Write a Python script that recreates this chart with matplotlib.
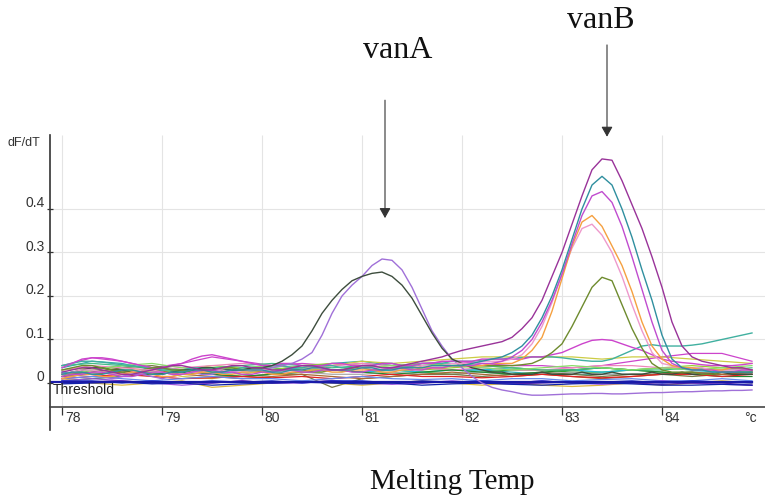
import numpy as np
import matplotlib
matplotlib.use("Agg")
import matplotlib.pyplot as plt

# temperature grids (degC)
temp_fine = np.round(np.arange(78.0, 84.95, 0.1), 1)     # 70 points
temp_coarse = np.round(np.arange(78.0, 84.95, 0.3), 1)   # 24 points

# --- peak curves (fine grid, dF/dT) ---
vanA_dark = [0.02, 0.025, 0.03, 0.035, 0.035, 0.03, 0.03, 0.025, 0.025, 0.02,
             0.02, 0.025, 0.03, 0.03, 0.035, 0.035, 0.03, 0.03, 0.03, 0.035,
             0.035, 0.04, 0.05, 0.065, 0.085, 0.12, 0.16, 0.19, 0.215, 0.235,
             0.245, 0.252, 0.255, 0.245, 0.225, 0.195, 0.155, 0.115, 0.08, 0.055,
             0.045, 0.035, 0.03, 0.025, 0.025, 0.02, 0.02, 0.02, 0.025, 0.02,
             0.02, 0.02, 0.025, 0.02, 0.02, 0.025, 0.02, 0.02, 0.02, 0.025,
             0.02, 0.02, 0.025, 0.02, 0.02, 0.02, 0.025, 0.02, 0.02, 0.02]
vanA_lavender = [0.01, 0.015, 0.02, 0.02, 0.015, 0.01, 0.015, 0.02, 0.02, 0.015,
                 0.01, 0.015, 0.02, 0.025, 0.02, 0.02, 0.025, 0.025, 0.03, 0.03,
                 0.03, 0.035, 0.04, 0.045, 0.055, 0.07, 0.11, 0.16, 0.2, 0.225,
                 0.245, 0.27, 0.285, 0.282, 0.26, 0.22, 0.17, 0.12, 0.085, 0.055,
                 0.035, 0.015, 0.0, -0.01, -0.016, -0.02, -0.025, -0.028, -0.028, -0.027,
                 -0.026, -0.025, -0.025, -0.024, -0.024, -0.025, -0.025, -0.024, -0.023, -0.022,
                 -0.022, -0.021, -0.02, -0.02, -0.019, -0.018, -0.018, -0.017, -0.017, -0.016]
vanB_purple = [0.025, 0.03, 0.035, 0.035, 0.03, 0.025, 0.02, 0.02, 0.025, 0.03,
               0.035, 0.04, 0.04, 0.035, 0.03, 0.03, 0.035, 0.04, 0.04, 0.035,
               0.035, 0.03, 0.03, 0.035, 0.04, 0.04, 0.035, 0.03, 0.03, 0.035,
               0.04, 0.04, 0.035, 0.035, 0.04, 0.045, 0.05, 0.055, 0.06, 0.068,
               0.075, 0.08, 0.085, 0.09, 0.095, 0.105, 0.125, 0.15, 0.19, 0.245,
               0.3, 0.365, 0.43, 0.49, 0.515, 0.512, 0.465, 0.41, 0.355, 0.29,
               0.22, 0.14, 0.085, 0.06, 0.05, 0.045, 0.04, 0.035, 0.035, 0.03]
vanB_teal = [0.02, 0.025, 0.025, 0.02, 0.02, 0.025, 0.03, 0.03, 0.025, 0.02,
             0.02, 0.025, 0.025, 0.03, 0.03, 0.025, 0.025, 0.03, 0.03, 0.03,
             0.03, 0.025, 0.025, 0.03, 0.03, 0.035, 0.035, 0.03, 0.03, 0.03,
             0.035, 0.035, 0.03, 0.03, 0.035, 0.035, 0.035, 0.04, 0.04, 0.04,
             0.04, 0.045, 0.05, 0.055, 0.06, 0.07, 0.085, 0.11, 0.15, 0.2,
             0.26, 0.33, 0.4, 0.455, 0.475, 0.455, 0.4, 0.335, 0.26, 0.19,
             0.11, 0.055, 0.035, 0.03, 0.03, 0.025, 0.025, 0.025, 0.025, 0.025]
vanB_violet = [0.015, 0.02, 0.02, 0.025, 0.025, 0.02, 0.015, 0.015, 0.02, 0.025,
               0.025, 0.02, 0.02, 0.025, 0.03, 0.03, 0.025, 0.025, 0.02, 0.02,
               0.025, 0.025, 0.03, 0.03, 0.025, 0.025, 0.03, 0.03, 0.03, 0.025,
               0.025, 0.03, 0.03, 0.035, 0.035, 0.03, 0.03, 0.035, 0.035, 0.04,
               0.04, 0.04, 0.045, 0.045, 0.05, 0.06, 0.075, 0.1, 0.14, 0.19,
               0.25, 0.32, 0.385, 0.43, 0.44, 0.415, 0.36, 0.29, 0.215, 0.14,
               0.075, 0.045, 0.035, 0.03, 0.03, 0.03, 0.025, 0.025, 0.03, 0.03]
vanB_orange = [0.01, 0.015, 0.02, 0.02, 0.015, 0.015, 0.02, 0.025, 0.025, 0.02,
               0.015, 0.015, 0.02, 0.02, 0.025, 0.025, 0.02, 0.02, 0.025, 0.025,
               0.025, 0.02, 0.02, 0.025, 0.025, 0.03, 0.03, 0.025, 0.025, 0.03,
               0.03, 0.03, 0.025, 0.025, 0.03, 0.03, 0.035, 0.035, 0.035, 0.04,
               0.04, 0.04, 0.04, 0.045, 0.045, 0.045, 0.055, 0.075, 0.105, 0.165,
               0.24, 0.315, 0.37, 0.385, 0.36, 0.315, 0.27, 0.21, 0.14, 0.085,
               0.055, 0.04, 0.035, 0.035, 0.03, 0.03, 0.03, 0.035, 0.035, 0.03]
vanB_pink = [0.02, 0.025, 0.03, 0.03, 0.025, 0.02, 0.02, 0.025, 0.03, 0.03,
             0.025, 0.02, 0.02, 0.025, 0.025, 0.03, 0.03, 0.025, 0.025, 0.03,
             0.03, 0.03, 0.025, 0.025, 0.03, 0.035, 0.035, 0.03, 0.03, 0.03,
             0.035, 0.035, 0.035, 0.03, 0.03, 0.035, 0.04, 0.04, 0.04, 0.045,
             0.045, 0.045, 0.05, 0.05, 0.05, 0.055, 0.065, 0.09, 0.13, 0.185,
             0.25, 0.31, 0.355, 0.365, 0.34, 0.3, 0.245, 0.18, 0.12, 0.07,
             0.045, 0.04, 0.035, 0.035, 0.035, 0.03, 0.03, 0.03, 0.03, 0.03]
vanB_olive = [0.03, 0.035, 0.04, 0.04, 0.035, 0.03, 0.025, 0.025, 0.03, 0.035,
              0.035, 0.03, 0.03, 0.025, 0.025, 0.03, 0.035, 0.035, 0.03, 0.03,
              0.025, 0.025, 0.03, 0.03, 0.03, 0.025, 0.025, 0.03, 0.03, 0.035,
              0.035, 0.03, 0.03, 0.035, 0.035, 0.035, 0.04, 0.04, 0.04, 0.04,
              0.04, 0.04, 0.04, 0.04, 0.04, 0.04, 0.042, 0.045, 0.055, 0.07,
              0.09, 0.13, 0.175, 0.22, 0.243, 0.235, 0.18, 0.125, 0.08, 0.045,
              0.03, 0.025, 0.025, 0.025, 0.02, 0.02, 0.025, 0.025, 0.025, 0.025]
vanB_small = [0.035, 0.045, 0.055, 0.058, 0.058, 0.055, 0.05, 0.045, 0.04, 0.035,
              0.035, 0.04, 0.045, 0.055, 0.062, 0.065, 0.06, 0.055, 0.05, 0.045,
              0.04, 0.04, 0.045, 0.045, 0.04, 0.04, 0.04, 0.045, 0.045, 0.04,
              0.04, 0.04, 0.045, 0.045, 0.04, 0.04, 0.045, 0.045, 0.05, 0.05,
              0.05, 0.05, 0.055, 0.055, 0.055, 0.055, 0.055, 0.06, 0.06, 0.065,
              0.07, 0.08, 0.09, 0.098, 0.1, 0.098, 0.09, 0.082, 0.075, 0.065,
              0.055, 0.05, 0.047, 0.045, 0.042, 0.04, 0.04, 0.04, 0.042, 0.045]
teal_riser = [0.04, 0.045, 0.05, 0.05, 0.048, 0.045, 0.042, 0.04, 0.038, 0.035,
              0.03, 0.03, 0.03, 0.035, 0.035, 0.035, 0.03, 0.03, 0.035, 0.035,
              0.035, 0.04, 0.04, 0.035, 0.035, 0.04, 0.04, 0.04, 0.035, 0.035,
              0.04, 0.04, 0.045, 0.045, 0.04, 0.04, 0.045, 0.045, 0.045, 0.05,
              0.05, 0.05, 0.052, 0.055, 0.055, 0.058, 0.058, 0.06, 0.06, 0.06,
              0.058, 0.055, 0.052, 0.05, 0.05, 0.055, 0.065, 0.075, 0.085, 0.088,
              0.085, 0.085, 0.085, 0.087, 0.09, 0.095, 0.1, 0.105, 0.11, 0.115]

# --- background (negative) samples, coarse grid ---
bg_magenta = [0.04, 0.058, 0.05, 0.035, 0.045, 0.06, 0.05, 0.04, 0.045, 0.04, 0.045, 0.04,
              0.045, 0.05, 0.045, 0.04, 0.04, 0.035, 0.04, 0.05, 0.06, 0.068, 0.068, 0.05]
bg_teal = [0.035, 0.05, 0.045, 0.03, 0.025, 0.03, 0.035, 0.04, 0.035, 0.045, 0.05, 0.04,
           0.035, 0.03, 0.03, 0.025, 0.02, 0.02, 0.02, 0.02, 0.02, 0.025, 0.025, 0.02]
bg_yellow = [0.02, 0.025, 0.03, 0.03, 0.015, 0.01, 0.02, 0.03, 0.035, 0.04, 0.05, 0.045,
             0.05, 0.055, 0.06, 0.06, 0.06, 0.06, 0.055, 0.06, 0.06, 0.055, 0.05, 0.045]
bg_green = [0.015, 0.03, 0.04, 0.035, 0.03, 0.025, 0.03, 0.035, 0.03, 0.03, 0.025, 0.03,
            0.025, 0.02, 0.025, 0.03, 0.03, 0.025, 0.025, 0.03, 0.025, 0.02, 0.025, 0.03]
bg_red = [0.01, 0.015, 0.02, 0.015, 0.01, 0.012, 0.015, 0.012, 0.015, 0.01, 0.015, 0.02,
          0.015, 0.015, 0.012, 0.015, 0.02, 0.015, 0.012, 0.015, 0.02, 0.02, 0.015, 0.02]
bg_blue = [0.005, 0.005, 0.0, 0.005, 0.0, 0.005, 0.002, 0.005, 0.0, 0.005, 0.005, 0.0,
           0.005, 0.002, 0.005, 0.0, 0.005, 0.0, 0.002, 0.005, 0.0, 0.005, 0.002, 0.0]
bg_indigo = [0.0, 0.003, 0.005, 0.0, 0.002, 0.0, 0.005, 0.0, 0.002, 0.005, 0.0, 0.002,
             0.0, 0.003, 0.0, -0.002, 0.0, 0.002, 0.0, 0.0, -0.003, 0.0, 0.0, -0.005]
bg_cyan = [0.025, 0.02, 0.025, 0.03, 0.025, 0.02, 0.025, 0.03, 0.035, 0.03, 0.025, 0.03,
           0.025, 0.03, 0.03, 0.035, 0.03, 0.03, 0.025, 0.03, 0.035, 0.03, 0.025, 0.025]
bg_gray = [0.02, 0.03, 0.025, 0.02, 0.025, 0.02, 0.015, 0.02, 0.025, 0.02, 0.02, 0.025,
           0.02, 0.02, 0.025, 0.02, 0.02, 0.025, 0.02, 0.02, 0.02, 0.02, 0.025, 0.02]
bg_lime = [0.03, 0.035, 0.03, 0.025, 0.03, 0.04, 0.035, 0.03, 0.04, 0.045, 0.04, 0.035,
           0.03, 0.035, 0.04, 0.035, 0.03, 0.03, 0.035, 0.03, 0.035, 0.04, 0.035, 0.03]
bg_gold = [0.01, 0.0, -0.005, 0.0, 0.005, -0.01, -0.005, 0.0, 0.005, 0.0, -0.005, 0.0,
           0.005, 0.0, -0.005, 0.0, -0.005, -0.008, -0.005, 0.0, -0.005, 0.0, 0.005, 0.0]
bg_olive = [0.02, 0.025, 0.035, 0.04, 0.03, 0.02, 0.015, 0.02, 0.02, -0.01, 0.01, 0.015,
            0.02, 0.02, 0.015, 0.02, 0.025, 0.02, 0.015, 0.02, 0.02, 0.015, 0.02, 0.02]
bg_pink = [0.03, 0.04, 0.035, 0.03, 0.035, 0.04, 0.045, 0.04, 0.035, 0.04, 0.045, 0.04,
           0.035, 0.03, 0.035, 0.03, 0.03, 0.035, 0.04, 0.04, 0.035, 0.035, 0.03, 0.03]
bg_darkgreen = [0.005, 0.01, 0.015, 0.02, 0.025, 0.02, 0.015, 0.02, 0.025, 0.03, 0.025, 0.02,
                0.025, 0.03, 0.025, 0.02, 0.025, 0.03, 0.035, 0.03, 0.025, 0.02, 0.015, 0.015]
bg_lightblue = [0.01, 0.015, 0.01, 0.005, 0.01, 0.015, 0.01, 0.01, 0.005, 0.01, 0.015, 0.01,
                0.008, 0.01, 0.005, 0.01, 0.01, 0.005, 0.008, 0.01, 0.005, 0.005, 0.01, 0.005]
bg_brown = [0.015, 0.02, 0.025, 0.03, 0.02, 0.015, 0.01, 0.015, 0.02, 0.015, 0.01, 0.015,
            0.02, 0.025, 0.02, 0.015, 0.02, 0.015, 0.01, 0.015, 0.02, 0.025, 0.02, 0.025]
bg_violet = [0.005, 0.01, 0.005, 0.0, -0.005, 0.0, 0.005, 0.0, 0.0, 0.005, 0.0, -0.003,
             0.0, 0.005, 0.0, 0.0, 0.005, 0.0, -0.003, 0.0, 0.005, 0.0, -0.003, -0.005]
bg_seagreen = [0.04, 0.045, 0.04, 0.035, 0.03, 0.035, 0.04, 0.045, 0.04, 0.035, 0.04, 0.035,
               0.04, 0.045, 0.04, 0.035, 0.03, 0.03, 0.035, 0.03, 0.03, 0.035, 0.03, 0.035]
bg_lightgreen = [0.02, 0.03, 0.04, 0.045, 0.035, 0.03, 0.035, 0.04, 0.035, 0.03, 0.035, 0.04,
                 0.045, 0.04, 0.035, 0.03, 0.035, 0.04, 0.035, 0.03, 0.035, 0.03, 0.035, 0.04]
bg_navy = [-0.002, 0.0, 0.002, -0.002, 0.0, -0.005, -0.002, 0.0, 0.002, 0.0, -0.002, 0.0,
           -0.005, -0.002, 0.0, -0.003, -0.005, -0.002, 0.0, -0.002, -0.005, -0.005, -0.003, -0.005]

background = [
    (bg_magenta, "#cc44cc"), (bg_teal, "#33aaaa"), (bg_yellow, "#cccc44"),
    (bg_green, "#33aa33"), (bg_cyan, "#22bbdd"), (bg_gray, "#aaaaaa"),
    (bg_lime, "#99cc33"), (bg_olive, "#777744"), (bg_pink, "#ee88bb"),
    (bg_darkgreen, "#228833"), (bg_brown, "#aa6633"), (bg_seagreen, "#44bb88"),
    (bg_lightgreen, "#88dd66"), (bg_gold, "#ddbb44"), (bg_red, "#dd2222"),
    (bg_lightblue, "#6688ee"), (bg_violet, "#9955dd"), (bg_indigo, "#5522aa"),
    (bg_blue, "#2233cc"), (bg_navy, "#1122aa"),
]
peaks = [
    (teal_riser, "#40b0a0"), (vanB_small, "#cc44cc"), (vanA_lavender, "#a070d8"),
    (vanA_dark, "#3d4d3d"), (vanB_olive, "#6e8b2e"), (vanB_pink, "#ee99cc"),
    (vanB_orange, "#f5a040"), (vanB_violet, "#c04ccf"), (vanB_teal, "#2f8f9f"),
    (vanB_purple, "#993399"),
]

x_ticks = [78, 79, 80, 81, 82, 83, 84]
y_ticks = [0, 0.1, 0.2, 0.3, 0.4]
y_labels = ["0", "0.1", "0.2", "0.3", "0.4"]
threshold = 0.003
axis_floor = -0.055

fig = plt.figure(figsize=(7.65, 4.99), dpi=100)
ax = fig.add_axes([50 / 765, 1 - 430 / 499, 715 / 765, 295 / 499])
ax.set_xlim(77.88, 85.03)
ax.set_ylim(-0.108, 0.570)

# grid
grid_c = "#e4e4e4"
ax.vlines(x_ticks, axis_floor, 0.57, colors=grid_c, lw=0.8, zorder=0)
ax.hlines(y_ticks[1:], 77.88, 85.03, colors=grid_c, lw=0.8, zorder=0)

for vals, c in background:
    ax.plot(temp_coarse, vals, color=c, lw=0.9)
ax.plot([77.88, temp_fine[-1]], [threshold, threshold], color="#1a1aa8", lw=1.6)
for vals, c in peaks:
    ax.plot(temp_fine, vals, color=c, lw=1.0)

# axes
for s in ["top", "right"]:
    ax.spines[s].set_visible(False)
ax.spines["bottom"].set_position(("data", axis_floor))
ax.spines["bottom"].set_color("#444444")
ax.spines["bottom"].set_linewidth(1.2)
ax.spines["left"].set_color("#333333")
ax.spines["left"].set_linewidth(1.2)
ax.set_xticks(x_ticks)
ax.set_yticks(y_ticks)
ax.tick_params(axis="x", direction="out", length=6, width=0.9, color="#333333", labelbottom=False)
ax.tick_params(axis="y", direction="inout", length=5, width=0.9, color="#333333", labelleft=False)

lab = dict(family="Liberation Sans", fontsize=10, color="#333333")
for t in x_ticks:
    ax.annotate(str(t), xy=(t, axis_floor), xytext=(2, -3), textcoords="offset points",
                ha="left", va="top", **lab)
ax.annotate("°c", xy=(84.82, axis_floor), xytext=(0, -3), textcoords="offset points",
            ha="left", va="top", **lab)
for v, s in zip(y_ticks, y_labels):
    ax.annotate(s, xy=(77.88, v), xytext=(-4, 4), textcoords="offset points",
                ha="right", va="center", **lab)

fig.text(7 / 765, 1 - 143 / 499, "dF/dT", ha="left", va="center",
         family="Liberation Sans", fontsize=9, color="#333333")
fig.text(53 / 765, 1 - 390 / 499, "Threshold", ha="left", va="center",
         family="Liberation Sans", fontsize=10, color="#222222")

# peak labels and arrows
arrow = dict(arrowstyle="-|>,head_length=0.5,head_width=0.28", color="#333333",
             lw=0.8, mutation_scale=12, shrinkA=0, shrinkB=0)
ax.annotate("", xy=(81.23, 0.379), xytext=(81.23, 0.65), arrowprops=arrow,
            annotation_clip=False)
ax.annotate("", xy=(83.45, 0.566), xytext=(83.45, 0.777), arrowprops=arrow,
            annotation_clip=False)
serif = dict(family="Liberation Serif", color="#111111")
fig.text(398 / 765, 1 - 50 / 499, "vanA", ha="center", va="center", fontsize=23, **serif)
fig.text(601 / 765, 1 - 20 / 499, "vanB", ha="center", va="center", fontsize=23, **serif)
fig.text(452 / 765, 1 - 482 / 499, "Melting Temp", ha="center", va="center", fontsize=21, **serif)

fig.savefig("out.png", dpi=100)
